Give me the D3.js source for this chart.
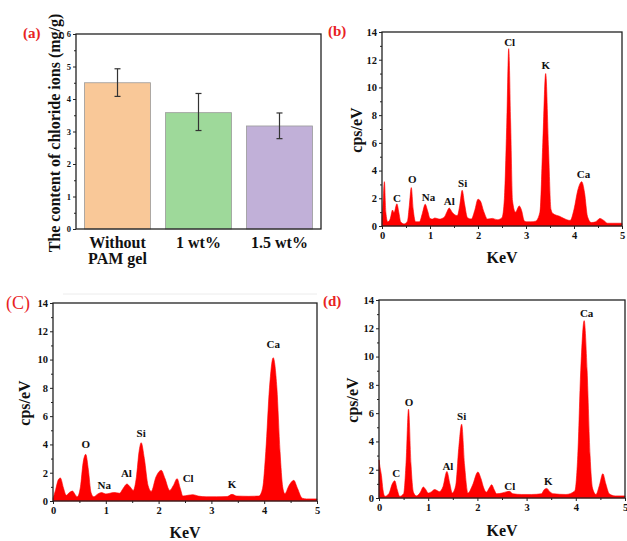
<!DOCTYPE html>
<html><head><meta charset="utf-8">
<script src="https://cdn.jsdelivr.net/npm/d3@7"></script>
<style>
html,body{margin:0;padding:0;background:#fff;}
svg{display:block;}
text{font-family:"Liberation Serif","Times New Roman",serif;font-weight:bold;fill:#111;}
</style></head><body>
<svg id="fig" width="627" height="541"></svg>
<script>
// ---------- Data ----------
// Panel (a): chloride ion content
const barCategories = ["Without\nPAM gel", "1 wt%", "1.5 wt%"];
const barValues = [4.5, 3.58, 3.17];
const barErrLow = [4.08, 3.03, 2.78];
const barErrHigh = [4.93, 4.17, 3.57];
const barColors = ["#f9c898", "#9ed99a", "#c1b0d8"];
const barYTicks = [0, 1, 2, 3, 4, 5, 6];

// EDS spectra: [keV, cps/eV]
const spectrumB = [[0,0.6],[0.02,1.6],[0.05,3.2],[0.08,1.0],[0.12,0.3],[0.17,0.5],[0.22,1.15],[0.25,0.95],[0.31,1.6],[0.35,1.0],[0.39,0.3],[0.46,0.15],[0.53,0.35],[0.57,1.5],[0.61,2.77],[0.65,1.2],[0.7,0.3],[0.78,0.3],[0.84,0.9],[0.9,1.57],[0.95,1.1],[1.0,0.55],[1.05,0.5],[1.1,0.58],[1.2,0.5],[1.3,0.65],[1.35,1.0],[1.4,1.3],[1.46,1.0],[1.52,0.8],[1.57,0.75],[1.62,1.5],[1.67,2.58],[1.72,1.6],[1.78,0.6],[1.86,0.5],[1.93,1.1],[2.0,1.93],[2.05,1.8],[2.12,1.05],[2.2,0.5],[2.3,0.55],[2.4,0.45],[2.5,0.6],[2.55,2.0],[2.6,7.5],[2.64,12.8],[2.68,7.5],[2.72,1.8],[2.78,1.0],[2.86,1.45],[2.91,1.1],[2.96,0.4],[3.0,0.3],[3.1,0.3],[3.2,0.35],[3.29,1.0],[3.35,6.0],[3.41,11.0],[3.47,5.5],[3.52,1.2],[3.56,0.9],[3.7,0.7],[3.85,0.45],[3.92,0.4],[4.0,1.2],[4.08,2.6],[4.16,3.2],[4.22,2.4],[4.28,0.7],[4.36,0.25],[4.45,0.3],[4.54,0.55],[4.62,0.4],[4.7,0.2],[4.8,0.2],[5.0,0.2]];
const spectrumC = [[0,0.2],[0.05,0.8],[0.1,1.5],[0.14,1.63],[0.2,0.9],[0.25,0.4],[0.31,0.6],[0.37,0.7],[0.42,0.45],[0.46,0.3],[0.52,1.0],[0.57,2.7],[0.62,3.3],[0.67,2.2],[0.72,0.6],[0.77,0.3],[0.85,0.5],[0.92,0.6],[1.0,0.5],[1.08,0.55],[1.15,0.6],[1.26,0.55],[1.33,0.9],[1.4,1.2],[1.46,1.0],[1.52,0.75],[1.58,1.7],[1.63,3.5],[1.67,4.12],[1.73,3.0],[1.8,1.1],[1.86,0.68],[1.95,1.7],[2.05,2.17],[2.12,1.6],[2.21,0.75],[2.28,1.1],[2.35,1.58],[2.41,0.9],[2.46,0.35],[2.55,0.4],[2.65,0.45],[2.75,0.35],[2.9,0.3],[3.1,0.3],[3.3,0.32],[3.39,0.47],[3.48,0.35],[3.7,0.33],[3.9,0.35],[3.97,0.9],[4.03,3.5],[4.1,8.0],[4.17,10.13],[4.24,8.0],[4.3,3.5],[4.35,1.0],[4.39,0.52],[4.47,1.1],[4.56,1.46],[4.63,0.9],[4.72,0.2],[4.8,0.15],[5.0,0.15]];
const spectrumD = [[0,2.7],[0.02,2.2],[0.05,1.58],[0.08,0.6],[0.12,0.12],[0.2,0.3],[0.27,1.0],[0.32,1.22],[0.37,0.6],[0.42,0.12],[0.5,0.3],[0.55,2.5],[0.6,6.28],[0.65,2.4],[0.7,0.4],[0.76,0.15],[0.84,0.4],[0.9,0.78],[0.95,0.6],[1.0,0.35],[1.07,0.45],[1.13,0.6],[1.23,0.45],[1.3,0.8],[1.38,1.88],[1.44,1.0],[1.49,0.35],[1.56,0.9],[1.62,3.5],[1.68,5.22],[1.74,2.3],[1.81,0.35],[1.9,0.9],[2.01,1.84],[2.07,1.4],[2.13,0.7],[2.18,0.4],[2.24,0.7],[2.29,0.94],[2.34,0.6],[2.39,0.3],[2.5,0.35],[2.6,0.45],[2.65,0.47],[2.72,0.3],[2.9,0.25],[3.1,0.25],[3.3,0.3],[3.36,0.6],[3.41,0.68],[3.47,0.45],[3.55,0.3],[3.8,0.25],[3.98,0.5],[4.04,3.0],[4.1,9.0],[4.17,12.54],[4.23,9.0],[4.29,3.0],[4.34,0.7],[4.41,0.25],[4.48,0.9],[4.55,1.72],[4.61,1.0],[4.68,0.3],[4.8,0.15],[5.0,0.15]];

// Peak labels: element, keV, cps/eV (text baseline)
const labelsB = [["C",0.31,1.75],["O",0.63,3.1],["Na",0.97,1.78],["Al",1.4,1.48],["Si",1.68,2.82],["Cl",2.66,13.0],["K",3.41,11.35],["Ca",4.2,3.47]];
const labelsC = [["O",0.62,3.78],["Na",0.97,0.82],["Al",1.39,1.67],["Si",1.67,4.54],["Cl",2.56,1.32],["K",3.39,0.95],["Ca",4.17,10.8]];
const labelsD = [["C",0.35,1.5],["O",0.61,6.5],["Al",1.4,1.97],["Si",1.68,5.55],["Cl",2.66,0.56],["K",3.44,0.89],["Ca",4.22,12.77]];

const specXTicks = [0, 1, 2, 3, 4, 5];
const specXMinor = [0.5, 1.5, 2.5, 3.5, 4.5];
const specYTicks = [0, 2, 4, 6, 8, 10, 12, 14];
const specYMinor = [1, 3, 5, 7, 9, 11, 13];

// ---------- Drawing ----------
const svg = d3.select("#fig");
const RED = "#e8231f";

function styleAxis(g, fs) {
  g.select(".domain").remove();
  g.selectAll("line").attr("stroke", "#222").attr("stroke-width", 1);
  g.selectAll("text").style("font-size", fs + "px").attr("fill", "#111");
}

// Panel (a)
(function () {
  const L = 76, R = 321, T = 34, B = 229;
  const x = d3.scaleBand().domain(barCategories).range([L, R]).paddingInner(0.185).paddingOuter(0.105);
  const y = d3.scaleLinear().domain([0, 6]).range([B, T]);
  const g = svg.append("g");
  g.selectAll("rect.bar").data(barValues).join("rect")
    .attr("x", (d, i) => x(barCategories[i]))
    .attr("y", d => y(d))
    .attr("width", x.bandwidth())
    .attr("height", d => B - y(d))
    .attr("fill", (d, i) => barColors[i])
    .attr("stroke", "#9a9a9a").attr("stroke-width", 0.8);
  const eb = g.selectAll("g.err").data(barValues).join("g")
    .attr("transform", (d, i) => `translate(${x(barCategories[i]) + x.bandwidth() / 2},0)`);
  eb.append("line").attr("y1", (d, i) => y(barErrLow[i])).attr("y2", (d, i) => y(barErrHigh[i]))
    .attr("stroke", "#333").attr("stroke-width", 1.2);
  eb.append("line").attr("x1", -3).attr("x2", 3).attr("y1", (d, i) => y(barErrLow[i])).attr("y2", (d, i) => y(barErrLow[i]))
    .attr("stroke", "#333").attr("stroke-width", 1.2);
  eb.append("line").attr("x1", -3).attr("x2", 3).attr("y1", (d, i) => y(barErrHigh[i])).attr("y2", (d, i) => y(barErrHigh[i]))
    .attr("stroke", "#333").attr("stroke-width", 1.2);

  const ya = g.append("g").attr("transform", `translate(${L},0)`)
    .call(d3.axisLeft(y).tickValues(barYTicks).tickSize(3).tickPadding(2).tickFormat(d3.format("d")));
  styleAxis(ya, 8.5);
  const ym = g.append("g").attr("transform", `translate(${L},0)`)
    .call(d3.axisLeft(y).tickValues(barYTicks.slice(0, -1).map(v => v + 0.5)).tickSize(2).tickFormat(""));
  styleAxis(ym, 8);

  g.append("rect").attr("x", L).attr("y", T).attr("width", R - L).attr("height", B - T)
    .attr("fill", "none").attr("stroke", "#222").attr("stroke-width", 1.3);

  // category labels
  barCategories.forEach((c, i) => {
    const t = g.append("text").attr("text-anchor", "middle").style("font-size", "16px")
      .attr("x", x(c) + x.bandwidth() / 2).attr("y", 248);
    c.split("\n").forEach((line, k) => {
      t.append("tspan").attr("x", x(c) + x.bandwidth() / 2).attr("dy", k === 0 ? 0 : 16).text(line);
    });
  });
  g.append("text").attr("transform", "translate(60,133) rotate(-90)").attr("text-anchor", "middle")
    .style("font-size", "16px").text("The content of chloride ions (mg/g)");
  g.append("text").attr("x", 23).attr("y", 38).style("font-size", "15px").style("fill", RED).text("(a)");
})();

function spectrumPanel(cfg) {
  const { L, R, T, B, data, labels } = cfg;
  const x = d3.scaleLinear().domain([0, 5]).range([L, R]);
  const y = d3.scaleLinear().domain([0, 14]).range([B, T]);
  const g = svg.append("g");
  const area = d3.area().x(d => x(d[0])).y0(y(0)).y1(d => y(d[1])).curve(d3.curveMonotoneX);
  g.append("path").datum(data).attr("d", area).attr("fill", "#ff0000").attr("stroke", "#f00").attr("stroke-width", 0.6);

  const ya = g.append("g").attr("transform", `translate(${L},0)`)
    .call(d3.axisLeft(y).tickValues(specYTicks).tickSize(3).tickPadding(2).tickFormat(d3.format("d")));
  styleAxis(ya, 10.5);
  const ym = g.append("g").attr("transform", `translate(${L},0)`)
    .call(d3.axisLeft(y).tickValues(specYMinor).tickSize(2).tickFormat(""));
  styleAxis(ym, 10);
  const xa = g.append("g").attr("transform", `translate(0,${B})`)
    .call(d3.axisBottom(x).tickValues(specXTicks).tickSize(3).tickPadding(3).tickFormat(d3.format("d")));
  styleAxis(xa, 10.5);
  const xm = g.append("g").attr("transform", `translate(0,${B})`)
    .call(d3.axisBottom(x).tickValues(specXMinor).tickSize(2).tickFormat(""));
  styleAxis(xm, 10);

  g.append("rect").attr("x", L).attr("y", T).attr("width", R - L).attr("height", B - T)
    .attr("fill", "none").attr("stroke", "#222").attr("stroke-width", 1.3);

  g.selectAll("text.pk").data(labels).join("text").attr("class", "pk")
    .attr("text-anchor", "middle").style("font-size", "11px")
    .attr("x", d => x(d[1])).attr("y", d => y(d[2])).text(d => d[0]);

  g.append("text").attr("x", (L + R) / 2).attr("y", cfg.xTitleY).attr("text-anchor", "middle")
    .style("font-size", "16px").text("KeV");
  g.append("text").attr("transform", `translate(${cfg.yTitleX},${(T + B) / 2 + 1}) rotate(-90)`).attr("text-anchor", "middle")
    .style("font-size", "16px").text("cps/eV");
  const pl = g.append("text").attr("x", cfg.tagX).attr("y", cfg.tagY).style("fill", RED)
    .style("font-size", cfg.tagSize + "px").text(cfg.tag);
  if (cfg.tagNormal) pl.style("font-weight", "normal");
}

spectrumPanel({ L: 382, R: 622, T: 32, B: 226, data: spectrumB, labels: labelsB,
  xTitleY: 263, yTitleX: 362, tag: "(b)", tagX: 328, tagY: 36, tagSize: 15 });
// faint artefact line above panel (c)
svg.append("line").attr("x1", 63).attr("x2", 317).attr("y1", 294).attr("y2", 294).attr("stroke", "#ececec").attr("stroke-width", 1);
spectrumPanel({ L: 53, R: 317, T: 303, B: 501, data: spectrumC, labels: labelsC,
  xTitleY: 538, yTitleX: 30, tag: "(C)", tagX: 6, tagY: 309, tagSize: 18, tagNormal: true });
spectrumPanel({ L: 379, R: 625, T: 300, B: 498, data: spectrumD, labels: labelsD,
  xTitleY: 536, yTitleX: 358, tag: "(d)", tagX: 323, tagY: 306, tagSize: 15 });
</script>
</body></html>
